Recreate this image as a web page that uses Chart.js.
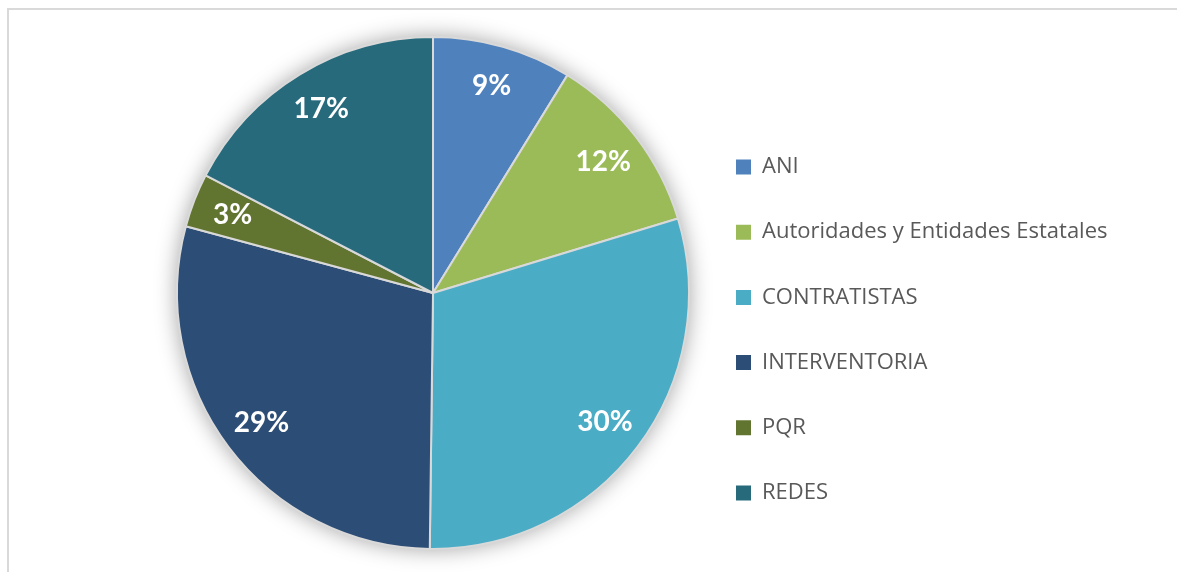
<!DOCTYPE html>
<html>
<head>
<meta charset="utf-8">
<script src="https://cdn.jsdelivr.net/npm/chart.js@4.4.0/dist/chart.umd.min.js"></script>
<style>
  html, body { margin: 0; padding: 0; background: #fff; }
  #wrap { position: relative; width: 1177px; height: 572px; overflow: hidden; }
  #frame { position: absolute; left: 7px; top: 8px; width: 1200px; height: 600px;
           border-top: 2px solid #d9d9d9; border-left: 2px solid #d9d9d9; }
  #myChart { position: absolute; left: 0; top: 0; }
</style>
</head>
<body>
<div id="wrap">
  <div id="frame"></div>
  <canvas id="myChart" width="1177" height="572"></canvas>
</div>
<script>
// Data (share of each category, in %)
const categories = ['ANI', 'Autoridades y Entidades Estatales', 'CONTRATISTAS', 'INTERVENTORIA', 'PQR', 'REDES'];
const shares = [8.8, 11.5, 29.9, 29.0, 3.4, 17.4];
const sliceColors = ['#4F81BD', '#9BBB59', '#4BACC6', '#2C4D75', '#627530', '#276A7C'];

const legendFont = { family: 'Open Sans', size: 22 };
const legendStep = 65.2;                       // distance between legend rows
const legendPad = legendStep - legendFont.size;
const legendBox = 15;

// soft shadow behind the pie
const pieShadow = {
    id: 'pieShadow',
    beforeDatasetsDraw(chart) {
        const arc = chart.getDatasetMeta(0).data[0];
        if (!arc) return;
        const { x, y, outerRadius } = arc.getProps(['x', 'y', 'outerRadius'], true);
        const ctx = chart.ctx;
        ctx.save();
        ctx.shadowColor = 'rgba(0,0,0,0.38)';
        ctx.shadowBlur = 22;
        ctx.fillStyle = '#ffffff';
        ctx.beginPath();
        ctx.arc(x, y, outerRadius, 0, Math.PI * 2);
        ctx.fill();
        ctx.restore();
    }
};

// percentage labels inside the slices
const sliceLabels = {
    id: 'sliceLabels',
    afterDatasetsDraw(chart) {
        const ctx = chart.ctx;
        const data = chart.data.datasets[0].data;
        const total = data.reduce((a, b) => a + b, 0);
        ctx.save();
        ctx.fillStyle = '#ffffff';
        ctx.font = 'bold 28px Lato';
        ctx.textAlign = 'center';
        ctx.textBaseline = 'middle';
        chart.getDatasetMeta(0).data.forEach((arc, i) => {
            const p = arc.getProps(['x', 'y', 'startAngle', 'endAngle', 'outerRadius'], true);
            const mid = (p.startAngle + p.endAngle) / 2;
            const r = p.outerRadius * 0.84;
            const pct = Math.round(data[i] / total * 100) + '%';
            ctx.fillText(pct, p.x + Math.cos(mid) * r, p.y + Math.sin(mid) * r);
        });
        ctx.restore();
    }
};

const ctx = document.getElementById('myChart').getContext('2d');

// work out side padding so the pie sits at x≈433 and the legend starts at x≈736
// (Chart.js adds 10px to a vertical legend's width)
ctx.font = legendFont.size + 'px "' + legendFont.family + '"';
const longest = Math.max(...categories.map(c => ctx.measureText(c).width));
const legendWidth = legendPad + legendBox + legendFont.size / 2 + longest + 10;
const legendLeft = 736 - legendPad;
const padLeft = 2 * 433 - legendLeft;
const padRight = 1177 - legendLeft - legendWidth;

const myChart = new Chart(ctx, {
    type: 'pie',
    data: {
        labels: categories,
        datasets: [{
            data: shares,
            backgroundColor: sliceColors,
            borderColor: '#d9d9d9',
            borderWidth: 2,
            hoverOffset: 0
        }]
    },
    options: {
        responsive: false,
        animation: false,
        devicePixelRatio: 1,
        radius: 256,
        layout: {
            padding: { left: padLeft, right: padRight, top: 37, bottom: 23 }
        },
        plugins: {
            tooltip: { enabled: false },
            legend: {
                position: 'right',
                title: {
                    display: true,
                    text: '',
                    font: { size: 20 },
                    padding: 25
                },
                labels: {
                    boxWidth: legendBox,
                    boxHeight: legendBox,
                    padding: legendPad,
                    color: '#595959',
                    font: legendFont,
                    // plain squares, no outline
                    generateLabels(chart) {
                        const base = Chart.overrides.pie.plugins.legend.labels.generateLabels(chart);
                        return base.map(l => Object.assign(l, { lineWidth: 0, strokeStyle: l.fillStyle }));
                    }
                }
            }
        }
    },
    plugins: [pieShadow, sliceLabels]
});
</script>
</body>
</html>
